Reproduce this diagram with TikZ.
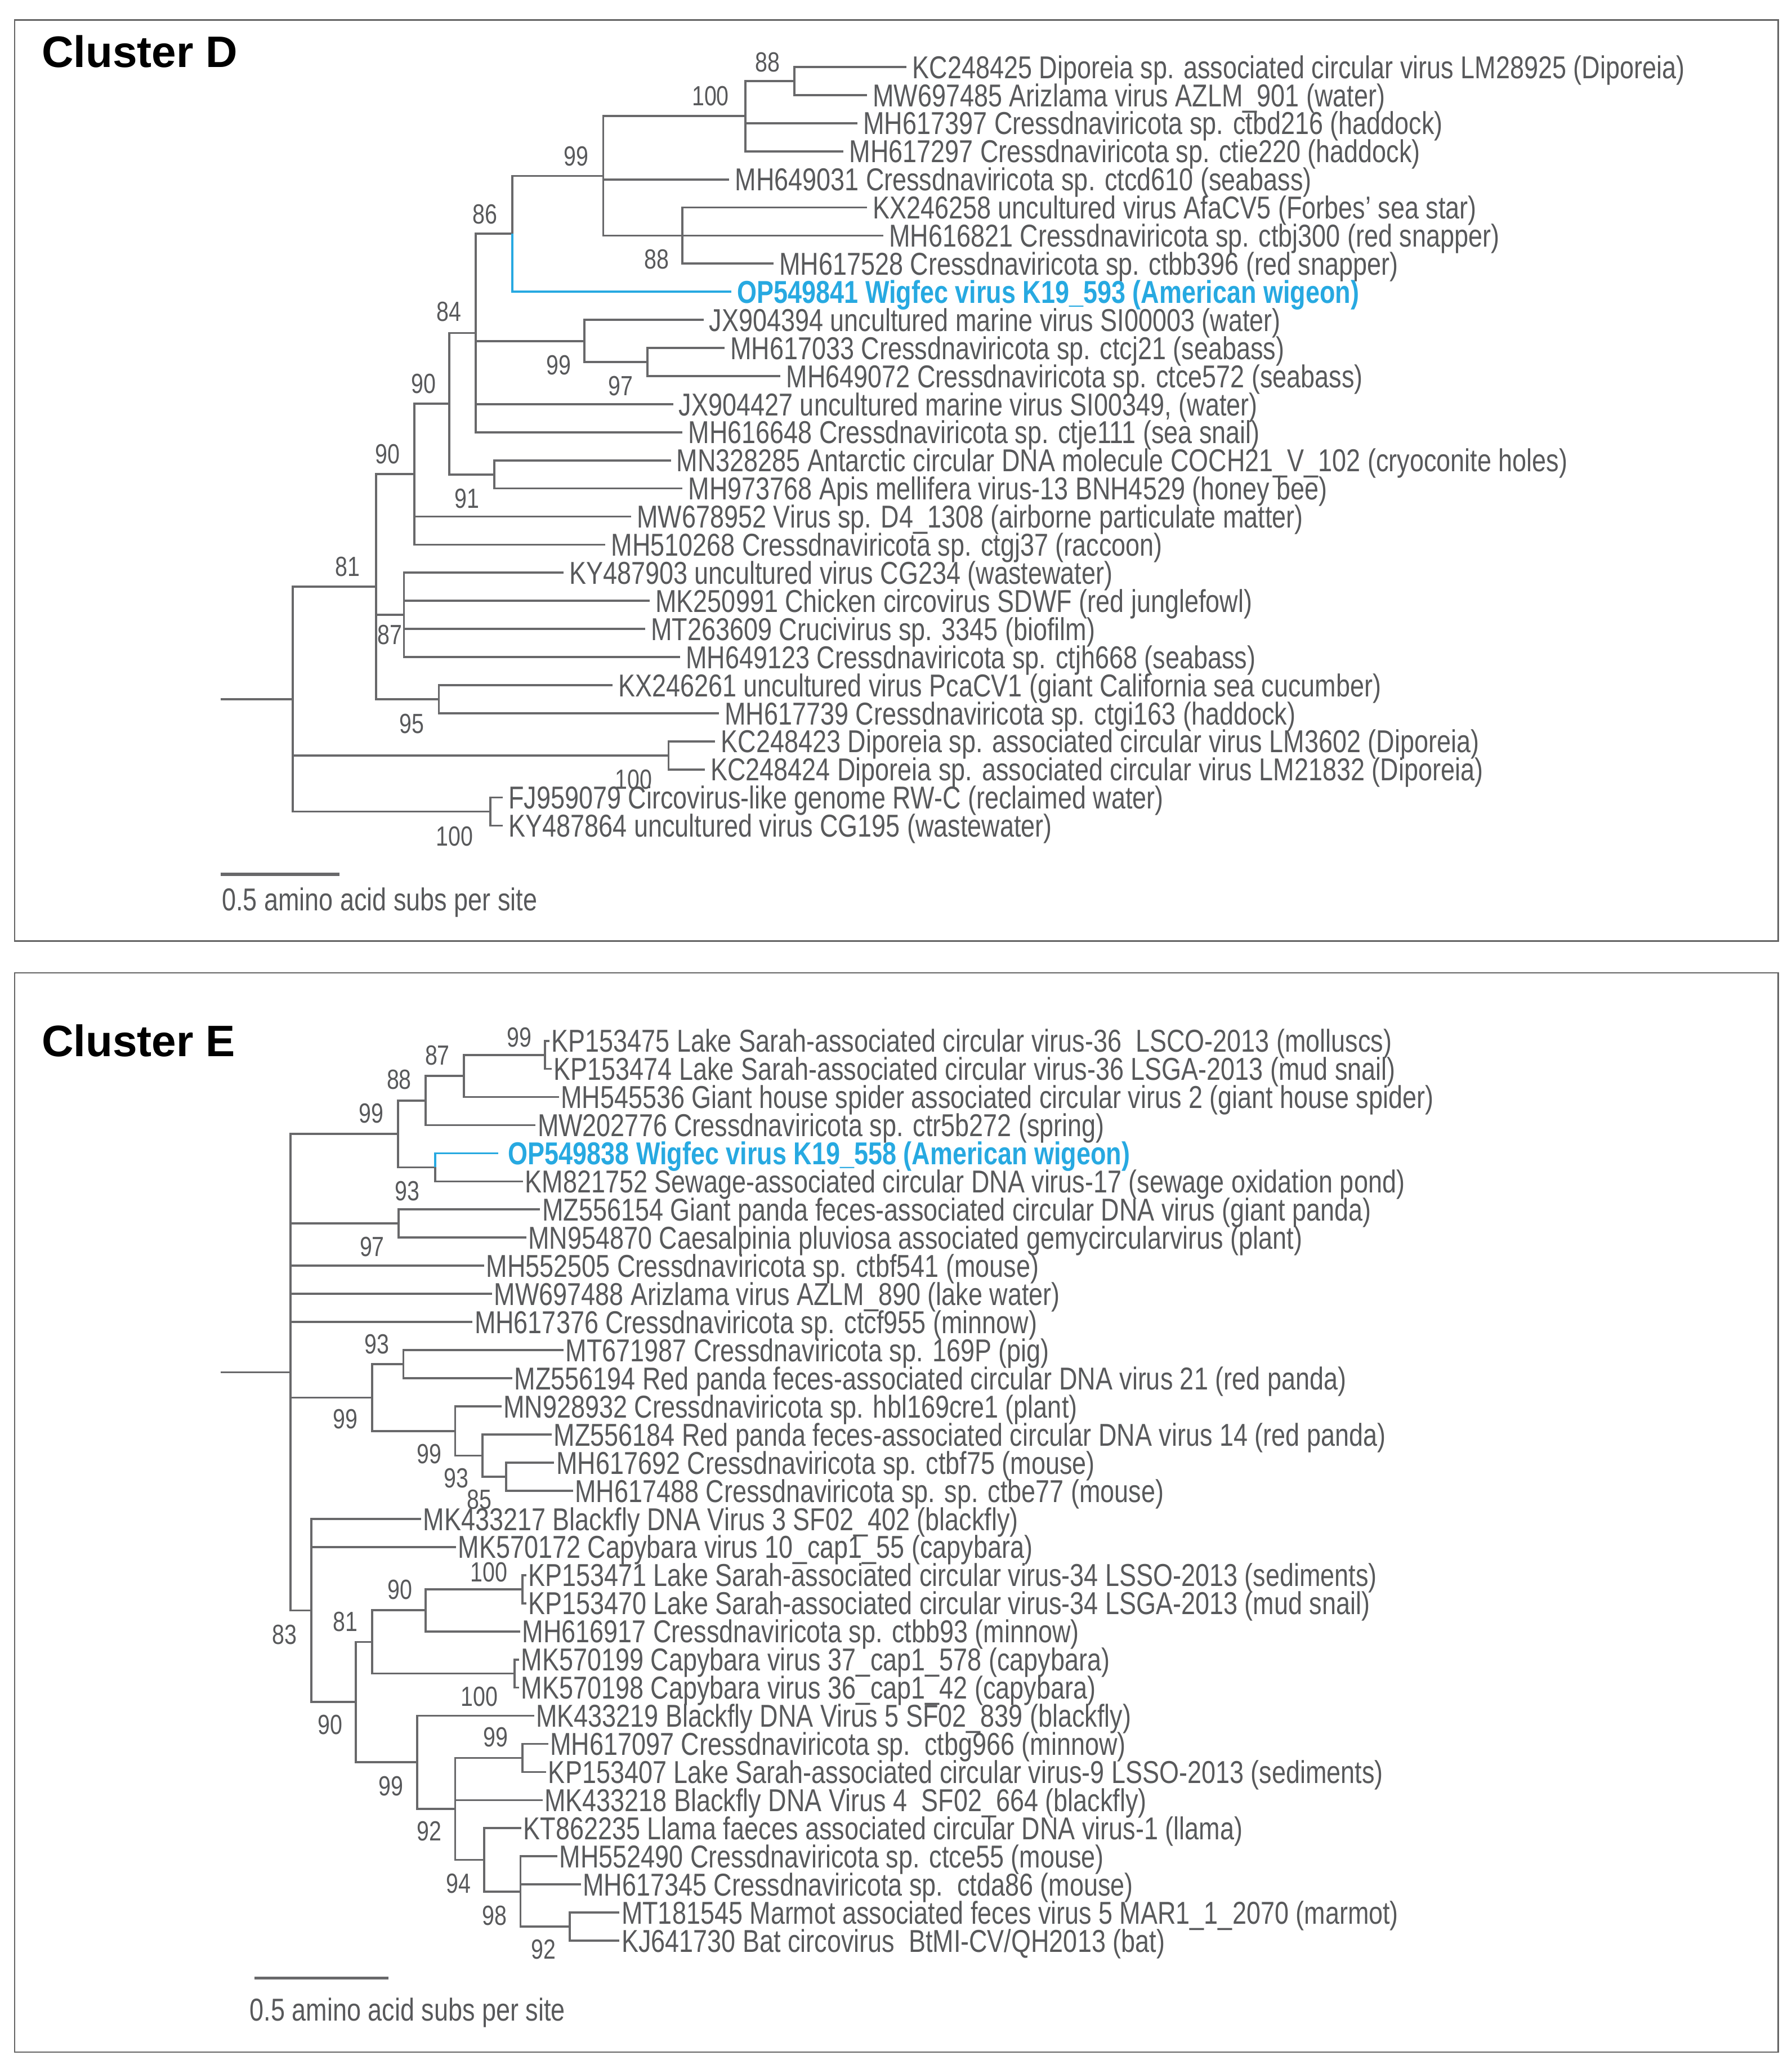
\documentclass[tikz,border=0pt]{standalone}
\usepackage{fontspec}
\setmainfont{Liberation Sans}
\newfontfamily\narrow[FakeStretch=0.80]{Liberation Sans}
\definecolor{linegray}{RGB}{104,104,106}
\definecolor{textgray}{RGB}{88,89,91}
\definecolor{framegray}{RGB}{100,100,100}
\definecolor{wblue}{RGB}{39,169,225}
\tikzset{
  br/.style={draw=linegray,line width=0.8pt},
  brblue/.style={draw=wblue,line width=0.8pt},
  sbar/.style={draw=linegray,line width=1.2pt},
  frame/.style={draw=framegray,line width=0.6pt},
  lab/.style={font={\narrow\fontsize{12}{14}\selectfont},text=textgray,anchor=west,
    text height=8.6pt,text depth=0pt,inner ysep=0pt,inner xsep=2pt},
  labE/.style={lab,inner xsep=0.6pt},
  bluelab/.style={lab,font={\narrow\bfseries\fontsize{12}{14}\selectfont},text=wblue},
  sup/.style={font={\narrow\fontsize{10.5}{12}\selectfont},text=textgray,
    text height=7.5pt,text depth=0pt,inner sep=0pt},
  ttl/.style={font={\bfseries\fontsize{16.7}{20}\selectfont},text=black,anchor=base west,inner sep=0pt}
}
\begin{document}
\begin{tikzpicture}[x=0.5pt,y=-0.5pt]
\useasboundingbox (0,0) rectangle (1358.1,1568.5);
% frames
\draw[frame] (11.1,15.2) rectangle (1348.2,713.5);
\draw[frame] (11.1,737.5) rectangle (1348.2,1555.7);
\node[ttl] (titleD) at (31.2,51.2) {Cluster D};
\node[ttl] (titleE) at (31.2,801.0) {Cluster E};

%%%%%%%%%%%%%%%% CLUSTER D %%%%%%%%%%%%%%%%
% tips
\coordinate (dT1) at (687.3,50.8);
\coordinate (dT2) at (657.2,72.1);
\coordinate (dT3) at (650.1,93.4);
\coordinate (dT4) at (639.5,114.7);
\coordinate (dT5) at (552.8,136.0);
\coordinate (dT6) at (657.2,157.3);
\coordinate (dT7) at (669.6,178.6);
\coordinate (dT8) at (586.4,199.9);
\coordinate (dT9) at (554.6,221.2);
\coordinate (dT10) at (533.3,242.5);
\coordinate (dT11) at (549.3,263.8);
\coordinate (dT12) at (591.7,285.1);
\coordinate (dT13) at (510.3,306.4);
\coordinate (dT14) at (517.4,327.7);
\coordinate (dT15) at (508.6,349.0);
\coordinate (dT16) at (517.4,370.3);
\coordinate (dT17) at (478.5,391.6);
\coordinate (dT18) at (459.0,412.9);
\coordinate (dT19) at (427.2,434.2);
\coordinate (dT20) at (492.6,455.5);
\coordinate (dT21) at (489.1,476.8);
\coordinate (dT22) at (515.6,498.1);
\coordinate (dT23) at (464.3,519.4);
\coordinate (dT24) at (545.0,540.7);
\coordinate (dT25) at (542.2,562.0);
\coordinate (dT26) at (534.4,583.3);
\coordinate (dT27) at (381.2,604.6);
\coordinate (dT28) at (381.2,625.9);
% internal nodes
\coordinate (dN88a) at (602.3,61.45);
\coordinate (dN100) at (565.2,88.08);
\coordinate (dN88b) at (517.4,178.6);
\coordinate (dN99) at (457.3,133.34);
\coordinate (dN86) at (388.3,177.27);
\coordinate (dN97) at (490.9,274.45);
\coordinate (dN99b) at (443.1,258.48);
\coordinate (dN84) at (360.6,252.49);
\coordinate (dN91) at (374.8,359.65);
\coordinate (dN90a) at (340.5,306.07);
\coordinate (dN90b) at (314.0,359.49);
\coordinate (dN87) at (306.2,466.15);
\coordinate (dN95) at (332.7,530.05);
\coordinate (dN81) at (285.0,444.77);
\coordinate (dN100d) at (506.8,572.65);
\coordinate (dN100e) at (371.6,615.25);
\coordinate (dRoot) at (222.0,530.01);
\coordinate (dStub) at (167.1,530.01);
% branches
\draw[br] (dN88a) |- (dT1) (dN88a) |- (dT2);
\draw[br] (dN100) |- (dN88a) (dN100) |- (dT3) (dN100) |- (dT4);
\draw[br] (dN88b) |- (dT6) (dN88b) |- (dT7) (dN88b) |- (dT8);
\draw[br] (dN99) |- (dN100) (dN99) |- (dT5) (dN99) |- (dN88b);
\draw[br] (dN86) |- (dN99);
\draw[br] (dN97) |- (dT11) (dN97) |- (dT12);
\draw[br] (dN99b) |- (dT10) (dN99b) |- (dN97);
\draw[br] (dN84) |- (dN86) (dN84) |- (dN99b) (dN84) |- (dT13) (dN84) |- (dT14);
\draw[br] (dN91) |- (dT15) (dN91) |- (dT16);
\draw[br] (dN90a) |- (dN84) (dN90a) |- (dN91);
\draw[br] (dN90b) |- (dN90a) (dN90b) |- (dT17) (dN90b) |- (dT18);
\draw[br] (dN87) |- (dT19) (dN87) |- (dT20) (dN87) |- (dT21) (dN87) |- (dT22);
\draw[br] (dN95) |- (dT23) (dN95) |- (dT24);
\draw[br] (dN81) |- (dN90b) (dN81) |- (dN87) (dN81) |- (dN95);
\draw[br] (dN100d) |- (dT25) (dN100d) |- (dT26);
\draw[br] (dN100e) |- (dT27) (dN100e) |- (dT28);
\draw[br] (dRoot) |- (dN81) (dRoot) |- (dN100d) (dRoot) |- (dN100e);
\draw[br] (dStub) -- (dRoot);
\draw[brblue] (dN86) |- (dT9);
% labels
\node[lab] (dL1) at (dT1) {KC248425 Diporeia sp. associated circular virus LM28925 (Diporeia)};
\node[lab] (dL2) at (dT2) {MW697485 Arizlama virus AZLM\_901 (water)};
\node[lab] (dL3) at (dT3) {MH617397 Cressdnaviricota sp. ctbd216 (haddock)};
\node[lab] (dL4) at (dT4) {MH617297 Cressdnaviricota sp. ctie220 (haddock)};
\node[lab] (dL5) at (dT5) {MH649031 Cressdnaviricota sp. ctcd610 (seabass)};
\node[lab] (dL6) at (dT6) {KX246258 uncultured virus AfaCV5 (Forbes’ sea star)};
\node[lab] (dL7) at (dT7) {MH616821 Cressdnaviricota sp. ctbj300 (red snapper)};
\node[lab] (dL8) at (dT8) {MH617528 Cressdnaviricota sp. ctbb396 (red snapper)};
\node[bluelab] (dL9) at (dT9) {OP549841 Wigfec virus K19\_593 (American wigeon)};
\node[lab] (dL10) at (dT10) {JX904394 uncultured marine virus SI00003 (water)};
\node[lab] (dL11) at (dT11) {MH617033 Cressdnaviricota sp. ctcj21 (seabass)};
\node[lab] (dL12) at (dT12) {MH649072 Cressdnaviricota sp. ctce572 (seabass)};
\node[lab] (dL13) at (dT13) {JX904427 uncultured marine virus SI00349, (water)};
\node[lab] (dL14) at (dT14) {MH616648 Cressdnaviricota sp. ctje111 (sea snail)};
\node[lab] (dL15) at (dT15) {MN328285 Antarctic circular DNA molecule COCH21\_V\_102 (cryoconite holes)};
\node[lab] (dL16) at (dT16) {MH973768 Apis mellifera virus-13 BNH4529 (honey bee)};
\node[lab] (dL17) at (dT17) {MW678952 Virus sp. D4\_1308 (airborne particulate matter)};
\node[lab] (dL18) at (dT18) {MH510268 Cressdnaviricota sp. ctgj37 (raccoon)};
\node[lab] (dL19) at (dT19) {KY487903 uncultured virus CG234 (wastewater)};
\node[lab] (dL20) at (dT20) {MK250991 Chicken circovirus SDWF (red junglefowl)};
\node[lab] (dL21) at (dT21) {MT263609 Crucivirus sp. 3345 (biofilm)};
\node[lab] (dL22) at (dT22) {MH649123 Cressdnaviricota sp. ctjh668 (seabass)};
\node[lab] (dL23) at (dT23) {KX246261 uncultured virus PcaCV1 (giant California sea cucumber)};
\node[lab] (dL24) at (dT24) {MH617739 Cressdnaviricota sp. ctgi163 (haddock)};
\node[lab] (dL25) at (dT25) {KC248423 Diporeia sp. associated circular virus LM3602 (Diporeia)};
\node[lab] (dL26) at (dT26) {KC248424 Diporeia sp. associated circular virus LM21832 (Diporeia)};
\node[lab] (dL27) at (dT27) {FJ959079 Circovirus-like genome RW-C (reclaimed water)};
\node[lab] (dL28) at (dT28) {KY487864 uncultured virus CG195 (wastewater)};
% support values
\node[sup] (dS1) at (582.0,47.0) {88};
\node[sup] (dS2) at (538.6,72.5) {100};
\node[sup] (dS3) at (436.7,118.0) {99};
\node[sup] (dS4) at (367.7,162.0) {86};
\node[sup] (dS5) at (498.0,196.5) {88};
\node[sup] (dS6) at (340.5,236.0) {84};
\node[sup] (dS7) at (423.6,276.5) {99};
\node[sup] (dS8) at (470.7,292.5) {97};
\node[sup] (dS9) at (321.0,290.5) {90};
\node[sup] (dS10) at (293.8,343.8) {90};
\node[sup] (dS11) at (353.9,377.8) {91};
\node[sup] (dS12) at (263.5,429.5) {81};
\node[sup] (dS13) at (295.5,481.0) {87};
\node[sup] (dS14) at (312.2,548.4) {95};
\node[sup] (dS15) at (480.3,590.5) {100};
\node[sup] (dS16) at (344.5,633.6) {100};
% scale bar
\coordinate (dSb1) at (167.1,662.8);
\coordinate (dSb2) at (257.3,662.8);
\draw[sbar] (dSb1) -- (dSb2);
\node[lab,inner xsep=0pt] (dSbT) at (167.8,681.7) {0.5 amino acid subs per site};

%%%%%%%%%%%%%%%% CLUSTER E %%%%%%%%%%%%%%%%
\coordinate (eT1) at (416.6,789.0);
\coordinate (eT2) at (418.3,810.32);
\coordinate (eT3) at (423.6,831.64);
\coordinate (eT4) at (406.0,852.96);
\coordinate (eT5) at (377.6,874.28);
\coordinate (eT6) at (396.4,895.6);
\coordinate (eT7) at (409.5,916.92);
\coordinate (eT8) at (398.9,938.24);
\coordinate (eT9) at (367.0,959.56);
\coordinate (eT10) at (373.0,980.88);
\coordinate (eT11) at (358.2,1002.2);
\coordinate (eT12) at (427.2,1023.52);
\coordinate (eT13) at (388.3,1044.84);
\coordinate (eT14) at (380.1,1066.16);
\coordinate (eT15) at (418.3,1087.48);
\coordinate (eT16) at (420.1,1108.8);
\coordinate (eT17) at (434.3,1130.12);
\coordinate (eT18) at (319.3,1151.44);
\coordinate (eT19) at (345.8,1172.76);
\coordinate (eT20) at (398.9,1194.08);
\coordinate (eT21) at (398.9,1215.4);
\coordinate (eT22) at (394.3,1236.72);
\coordinate (eT23) at (393.6,1258.04);
\coordinate (eT24) at (393.6,1279.36);
\coordinate (eT25) at (404.9,1300.68);
\coordinate (eT26) at (415.5,1322.0);
\coordinate (eT27) at (414.1,1343.32);
\coordinate (eT28) at (411.3,1364.64);
\coordinate (eT29) at (395.3,1385.96);
\coordinate (eT30) at (422.6,1407.28);
\coordinate (eT31) at (440.3,1428.6);
\coordinate (eT32) at (469.6,1449.92);
\coordinate (eT33) at (469.6,1471.24);
% internal nodes
\coordinate (eN99a) at (413.0,799.66);
\coordinate (eN87) at (351.8,815.65);
\coordinate (eN88) at (322.8,834.31);
\coordinate (eN93a) at (329.9,884.94);
\coordinate (eN99b) at (301.6,859.63);
\coordinate (eN97) at (302.3,927.58);
\coordinate (eN93b) at (305.8,1034.18);
\coordinate (eN85) at (383.7,1119.46);
\coordinate (eN93c) at (365.9,1103.47);
\coordinate (eN99d) at (345.1,1084.82);
\coordinate (eN99c) at (282.1,1059.5);
\coordinate (eN100a) at (396.0,1204.74);
\coordinate (eN90b) at (322.8,1220.73);
\coordinate (eN100b) at (390.0,1268.7);
\coordinate (eN81) at (282.1,1244.72);
\coordinate (eN99f) at (396.0,1332.66);
\coordinate (eN92b) at (431.8,1460.58);
\coordinate (eN98) at (394.6,1433.93);
\coordinate (eN94) at (367.0,1409.95);
\coordinate (eN92a) at (345.1,1371.31);
\coordinate (eN99e) at (316.4,1335.99);
\coordinate (eN90a) at (269.7,1290.36);
\coordinate (eN83) at (236.1,1220.9);
\coordinate (eRoot) at (220.2,1040.27);
\coordinate (eStub) at (167.1,1040.27);
% branches
\draw[br] (eN99a) |- (eT1) (eN99a) |- (eT2);
\draw[br] (eN87) |- (eN99a) (eN87) |- (eT3);
\draw[br] (eN88) |- (eN87) (eN88) |- (eT4);
\draw[br] (eN93a) |- (eT6);
\draw[br] (eN99b) |- (eN88) (eN99b) |- (eN93a);
\draw[br] (eN97) |- (eT7) (eN97) |- (eT8);
\draw[br] (eN93b) |- (eT12) (eN93b) |- (eT13);
\draw[br] (eN85) |- (eT16) (eN85) |- (eT17);
\draw[br] (eN93c) |- (eT15) (eN93c) |- (eN85);
\draw[br] (eN99d) |- (eT14) (eN99d) |- (eN93c);
\draw[br] (eN99c) |- (eN93b) (eN99c) |- (eN99d);
\draw[br] (eN100a) |- (eT20) (eN100a) |- (eT21);
\draw[br] (eN90b) |- (eN100a) (eN90b) |- (eT22);
\draw[br] (eN100b) |- (eT23) (eN100b) |- (eT24);
\draw[br] (eN81) |- (eN90b) (eN81) |- (eN100b);
\draw[br] (eN99f) |- (eT26) (eN99f) |- (eT27);
\draw[br] (eN92b) |- (eT32) (eN92b) |- (eT33);
\draw[br] (eN98) |- (eT30) (eN98) |- (eT31) (eN98) |- (eN92b);
\draw[br] (eN94) |- (eT29) (eN94) |- (eN98);
\draw[br] (eN92a) |- (eN99f) (eN92a) |- (eT28) (eN92a) |- (eN94);
\draw[br] (eN99e) |- (eT25) (eN99e) |- (eN92a);
\draw[br] (eN90a) |- (eN81) (eN90a) |- (eN99e);
\draw[br] (eN83) |- (eT18) (eN83) |- (eT19) (eN83) |- (eN90a);
\draw[br] (eRoot) |- (eN99b) (eRoot) |- (eN97) (eRoot) |- (eT9) (eRoot) |- (eT10)
  (eRoot) |- (eT11) (eRoot) |- (eN99c) (eRoot) |- (eN83);
\draw[br] (eStub) -- (eRoot);
\draw[brblue] (eN93a) |- (eT5);
% labels
\node[labE] (eL1) at (eT1) {KP153475 Lake Sarah-associated circular virus-36\ \ LSCO-2013 (molluscs)};
\node[labE] (eL2) at (eT2) {KP153474 Lake Sarah-associated circular virus-36 LSGA-2013 (mud snail)};
\node[labE] (eL3) at (eT3) {MH545536 Giant house spider associated circular virus 2 (giant house spider)};
\node[labE] (eL4) at (eT4) {MW202776 Cressdnaviricota sp. ctr5b272 (spring)};
\node[bluelab,inner xsep=3.6pt] (eL5) at (eT5) {OP549838 Wigfec virus K19\_558 (American wigeon)};
\node[labE] (eL6) at (eT6) {KM821752 Sewage-associated circular DNA virus-17 (sewage oxidation pond)};
\node[labE] (eL7) at (eT7) {MZ556154 Giant panda feces-associated circular DNA virus (giant panda)};
\node[labE] (eL8) at (eT8) {MN954870 Caesalpinia pluviosa associated gemycircularvirus (plant)};
\node[labE] (eL9) at (eT9) {MH552505 Cressdnaviricota sp. ctbf541 (mouse)};
\node[labE] (eL10) at (eT10) {MW697488 Arizlama virus AZLM\_890 (lake water)};
\node[labE] (eL11) at (eT11) {MH617376 Cressdnaviricota sp. ctcf955 (minnow)};
\node[labE] (eL12) at (eT12) {MT671987 Cressdnaviricota sp. 169P (pig)};
\node[labE] (eL13) at (eT13) {MZ556194 Red panda feces-associated circular DNA virus 21 (red panda)};
\node[labE] (eL14) at (eT14) {MN928932 Cressdnaviricota sp. hbl169cre1 (plant)};
\node[labE] (eL15) at (eT15) {MZ556184 Red panda feces-associated circular DNA virus 14 (red panda)};
\node[labE] (eL16) at (eT16) {MH617692 Cressdnaviricota sp. ctbf75 (mouse)};
\node[labE] (eL17) at (eT17) {MH617488 Cressdnaviricota sp. sp. ctbe77 (mouse)};
\node[labE] (eL18) at (eT18) {MK433217 Blackfly DNA Virus 3 SF02\_402 (blackfly)};
\node[labE] (eL19) at (eT19) {MK570172 Capybara virus 10\_cap1\_55 (capybara)};
\node[labE] (eL20) at (eT20) {KP153471 Lake Sarah-associated circular virus-34 LSSO-2013 (sediments)};
\node[labE] (eL21) at (eT21) {KP153470 Lake Sarah-associated circular virus-34 LSGA-2013 (mud snail)};
\node[labE] (eL22) at (eT22) {MH616917 Cressdnaviricota sp. ctbb93 (minnow)};
\node[labE] (eL23) at (eT23) {MK570199 Capybara virus 37\_cap1\_578 (capybara)};
\node[labE] (eL24) at (eT24) {MK570198 Capybara virus 36\_cap1\_42 (capybara)};
\node[labE] (eL25) at (eT25) {MK433219 Blackfly DNA Virus 5 SF02\_839 (blackfly)};
\node[labE] (eL26) at (eT26) {MH617097 Cressdnaviricota sp.\ \ ctbg966 (minnow)};
\node[labE] (eL27) at (eT27) {KP153407 Lake Sarah-associated circular virus-9 LSSO-2013 (sediments)};
\node[labE] (eL28) at (eT28) {MK433218 Blackfly DNA Virus 4\ \ SF02\_664 (blackfly)};
\node[labE] (eL29) at (eT29) {KT862235 Llama faeces associated circular DNA virus-1 (llama)};
\node[labE] (eL30) at (eT30) {MH552490 Cressdnaviricota sp. ctce55 (mouse)};
\node[labE] (eL31) at (eT31) {MH617345 Cressdnaviricota sp.\ \ ctda86 (mouse)};
\node[labE] (eL32) at (eT32) {MT181545 Marmot associated feces virus 5 MAR1\_1\_2070 (marmot)};
\node[labE] (eL33) at (eT33) {KJ641730 Bat circovirus\ \ BtMI-CV/QH2013 (bat)};
% support values
\node[sup] (eS1) at (393.6,786.0) {99};
\node[sup] (eS2) at (331.6,799.6) {87};
\node[sup] (eS3) at (302.6,818.1) {88};
\node[sup] (eS4) at (281.4,843.7) {99};
\node[sup] (eS5) at (308.6,902.7) {93};
\node[sup] (eS6) at (282.1,944.7) {97};
\node[sup] (eS7) at (285.6,1018.6) {93};
\node[sup] (eS8) at (261.9,1075.5) {99};
\node[sup] (eS9) at (325.3,1101.8) {99};
\node[sup] (eS10) at (345.8,1120.3) {93};
\node[sup] (eS11) at (363.5,1136.7) {85};
\node[sup] (eS12) at (370.6,1191.5) {100};
\node[sup] (eS13) at (303.3,1205.0) {90};
\node[sup] (eS14) at (261.9,1229.2) {81};
\node[sup] (eS15) at (215.9,1239.1) {83};
\node[sup] (eS16) at (363.5,1286.1) {100};
\node[sup] (eS17) at (250.2,1307.4) {90};
\node[sup] (eS18) at (375.9,1316.7) {99};
\node[sup] (eS19) at (296.3,1353.6) {99};
\node[sup] (eS20) at (325.3,1387.8) {92};
\node[sup] (eS21) at (347.6,1427.6) {94};
\node[sup] (eS22) at (374.8,1451.8) {98};
\node[sup] (eS23) at (411.9,1477.4) {92};
% scale bar
\coordinate (eSb1) at (192.9,1499.5);
\coordinate (eSb2) at (294.5,1499.5);
\draw[sbar] (eSb1) -- (eSb2);
\node[lab,inner xsep=0pt] (eSbT) at (189.0,1523.3) {0.5 amino acid subs per site};
\end{tikzpicture}
\end{document}
